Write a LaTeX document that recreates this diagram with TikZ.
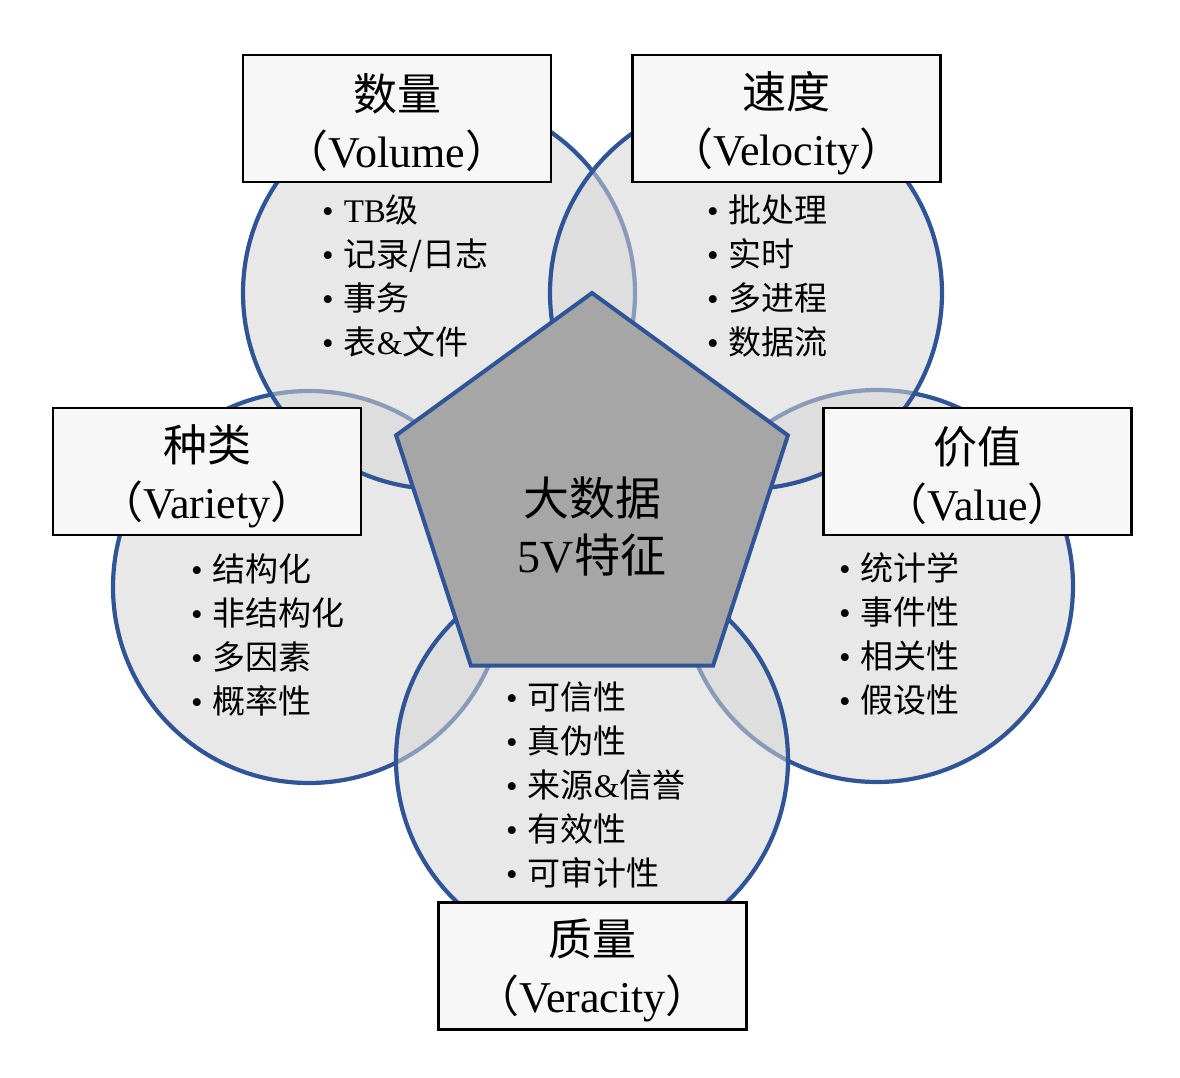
\documentclass[tikz,border=0pt]{standalone}
\usepackage{fontspec}
\setmainfont{Liberation Serif}
\newfontfamily\cjk{Noto Sans CJK SC}
\usetikzlibrary{shapes.geometric}

\definecolor{rimblue}{HTML}{2F5597}
\definecolor{coregray}{HTML}{A6A6A6}
\newcommand{\zh}[1]{{\cjk #1}}
\newcommand{\bul}{\textbullet\hspace{10pt}}

\tikzset{
  bubble/.style={circle, minimum size=392pt, inner sep=0pt, draw=rimblue,
    line width=4.2pt, fill=black!16, fill opacity=0.55},
  vbox/.style={draw=black, line width=2.2pt, fill=black!3, minimum width=308pt,
    minimum height=127pt, inner sep=0pt},
  vtitle/.style={align=center, inner sep=0pt, font=\fontsize{44}{57}\selectfont},
  itemlist/.style={anchor=west, inner sep=0pt, align=left,
    font=\fontsize{33}{44}\selectfont},
}

\begin{document}
\begin{tikzpicture}[x=1pt, y=-1pt]
    \useasboundingbox (0,0) rectangle (1180,1078);

    % the five V circles (order gives the overlaps)
    \node[bubble] (varietyC)  at (309,587) {};
    \node[bubble] (volumeC)   at (439,293) {};
    \node[bubble] (valueC)    at (877,586) {};
    \node[bubble] (velocityC) at (746,293) {};
    \node[bubble] (veracityC) at (592,760) {};

    % centre pentagon
    \node[regular polygon, regular polygon sides=5, minimum size=412pt, inner sep=0pt,
          draw=rimblue, line width=4pt, fill=coregray] (core) at (592,499) {};
    \node[align=center, font=\fontsize{46}{57}\selectfont] (coretext) at (592,526)
        {\zh{大数据}\\5V\zh{特征}};

    % title boxes
    \node[vbox] (volume)   at (397,118.5) {};
    \node[vbox] (velocity) at (786.5,118.5) {};
    \node[vbox] (variety)  at (207,471.5) {};
    \node[vbox] (value)    at (977.5,471.5) {};
    \node[vbox] (veracity) at (592.5,966) {};

    \node[vtitle] (volumeT)   at (397,123) {\zh{数量}\\\zh{（}Volume\zh{）}};
    \node[vtitle] (velocityT) at (786.5,123) {\zh{速度}\\\zh{（}Velocity\zh{）}};
    \node[vtitle] (varietyT)  at (207,476) {\zh{种类}\\\zh{（}Variety\zh{）}};
    \node[vtitle] (valueT)    at (977.5,476) {\zh{价值}\\\zh{（}Value\zh{）}};
    \node[vtitle] (veracityT) at (592.5,970.5) {\zh{质量}\\\zh{（}Veracity\zh{）}};

    % bullet lists
    \node[itemlist] (volumeL) at (322,276)
        {\bul TB\zh{级}\\\bul\zh{记录/日志}\\\bul\zh{事务}\\\bul\zh{表}\&\zh{文件}};
    \node[itemlist] (velocityL) at (707,276)
        {\bul\zh{批处理}\\\bul\zh{实时}\\\bul\zh{多进程}\\\bul\zh{数据流}};
    \node[itemlist] (varietyL) at (191,635)
        {\bul\zh{结构化}\\\bul\zh{非结构化}\\\bul\zh{多因素}\\\bul\zh{概率性}};
    \node[itemlist] (valueL) at (839,634)
        {\bul\zh{统计学}\\\bul\zh{事件性}\\\bul\zh{相关性}\\\bul\zh{假设性}};
    \node[itemlist] (veracityL) at (506,785)
        {\bul\zh{可信性}\\\bul\zh{真伪性}\\\bul\zh{来源}\&\zh{信誉}\\\bul\zh{有效性}\\\bul\zh{可审计性}};

\end{tikzpicture}
\end{document}
